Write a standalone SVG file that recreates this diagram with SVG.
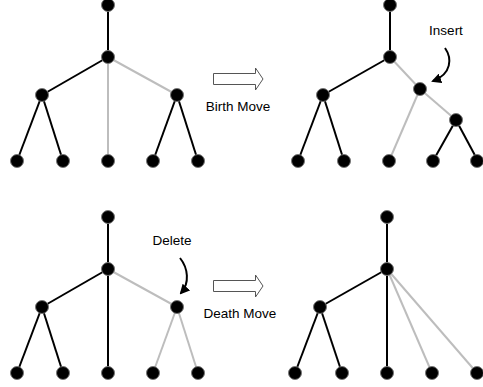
<svg xmlns="http://www.w3.org/2000/svg" width="483" height="387" viewBox="0 0 483 387">
  <style>
    .e { stroke: #000; stroke-width: 2; fill: none; }
    .g { stroke: #bdbdbd; stroke-width: 2; fill: none; }
    .n { fill: #000; stroke: #777; stroke-width: 1; }
    .t { font-family: "Liberation Sans", Arial, sans-serif; font-size: 13.5px; fill: #000; }
    .blk { fill: #fff; stroke: #555; stroke-width: 1; }
    .curve { stroke: #000; stroke-width: 2; fill: none; }
  </style>
  <defs>
    <marker id="head" viewBox="0 0 10 10" refX="8" refY="5" markerWidth="5" markerHeight="5" orient="auto" markerUnits="strokeWidth">
      <path d="M0,0 L10,5 L0,10 Z" fill="#000"/>
    </marker>
  </defs>
  <rect width="483" height="387" fill="#fff"/>

  <!-- connectors -->
  <g id="connectors">
    <!-- tree 1 -->
    <line class="e" x1="108" y1="5" x2="108" y2="57"/>
    <line class="e" x1="108" y1="57" x2="42" y2="95"/>
    <line class="g" x1="108" y1="57" x2="177" y2="95"/>
    <line class="g" x1="108" y1="57" x2="108" y2="161"/>
    <line class="e" x1="42" y1="95" x2="17" y2="161"/>
    <line class="e" x1="42" y1="95" x2="63" y2="161"/>
    <line class="e" x1="177" y1="95" x2="153" y2="161"/>
    <line class="e" x1="177" y1="95" x2="198" y2="161"/>
    <!-- tree 2 -->
    <line class="e" x1="390" y1="5" x2="390" y2="57"/>
    <line class="e" x1="390" y1="57" x2="323" y2="95"/>
    <line class="g" x1="390" y1="57" x2="420" y2="89"/>
    <line class="g" x1="420" y1="89" x2="389" y2="161"/>
    <line class="g" x1="420" y1="89" x2="456" y2="120"/>
    <line class="e" x1="323" y1="95" x2="298" y2="161"/>
    <line class="e" x1="323" y1="95" x2="344" y2="161"/>
    <line class="e" x1="456" y1="120" x2="433" y2="161"/>
    <line class="e" x1="456" y1="120" x2="478" y2="161"/>
    <!-- tree 3 -->
    <line class="e" x1="108" y1="217" x2="108" y2="269"/>
    <line class="e" x1="108" y1="269" x2="42" y2="307"/>
    <line class="g" x1="108" y1="269" x2="177" y2="307"/>
    <line class="e" x1="108" y1="269" x2="108" y2="373"/>
    <line class="e" x1="42" y1="307" x2="17" y2="373"/>
    <line class="e" x1="42" y1="307" x2="63" y2="373"/>
    <line class="g" x1="177" y1="307" x2="153" y2="373"/>
    <line class="g" x1="177" y1="307" x2="198" y2="373"/>
    <!-- tree 4 -->
    <line class="e" x1="387" y1="217" x2="387" y2="269"/>
    <line class="e" x1="387" y1="269" x2="320" y2="307"/>
    <line class="e" x1="387" y1="269" x2="387" y2="373"/>
    <line class="g" x1="387" y1="269" x2="432" y2="373"/>
    <line class="g" x1="387" y1="269" x2="477" y2="373"/>
    <line class="e" x1="320" y1="307" x2="295" y2="373"/>
    <line class="e" x1="320" y1="307" x2="342" y2="373"/>
    <!-- annotation arrows -->
    <path class="curve" d="M445,48 C452,58 452,74 433,81" marker-end="url(#head)"/>
    <path class="curve" d="M180,258 C188,268 190,283 181,293" marker-end="url(#head)"/>
  </g>

  <!-- tree 1 nodes -->
  <g id="t1">
    <circle class="n" cx="108" cy="5" r="6.5"/>
    <circle class="n" cx="108" cy="57" r="6.5"/>
    <circle class="n" cx="42" cy="95" r="6.5"/>
    <circle class="n" cx="177" cy="95" r="6.5"/>
    <circle class="n" cx="17" cy="161" r="6.5"/>
    <circle class="n" cx="63" cy="161" r="6.5"/>
    <circle class="n" cx="108" cy="161" r="6.5"/>
    <circle class="n" cx="153" cy="161" r="6.5"/>
    <circle class="n" cx="198" cy="161" r="6.5"/>
  </g>

  <!-- tree 2 nodes -->
  <g id="t2">
    <circle class="n" cx="390" cy="5" r="6.5"/>
    <circle class="n" cx="390" cy="57" r="6.5"/>
    <circle class="n" cx="323" cy="95" r="6.5"/>
    <circle class="n" cx="420" cy="89" r="6.5"/>
    <circle class="n" cx="456" cy="120" r="6.5"/>
    <circle class="n" cx="298" cy="161" r="6.5"/>
    <circle class="n" cx="344" cy="161" r="6.5"/>
    <circle class="n" cx="389" cy="161" r="6.5"/>
    <circle class="n" cx="433" cy="161" r="6.5"/>
    <circle class="n" cx="477" cy="161" r="6.5"/>
  </g>

  <!-- tree 3 nodes -->
  <g id="t3">
    <circle class="n" cx="108" cy="217" r="6.5"/>
    <circle class="n" cx="108" cy="269" r="6.5"/>
    <circle class="n" cx="42" cy="307" r="6.5"/>
    <circle class="n" cx="177" cy="307" r="6.5"/>
    <circle class="n" cx="17" cy="373" r="6.5"/>
    <circle class="n" cx="63" cy="373" r="6.5"/>
    <circle class="n" cx="108" cy="373" r="6.5"/>
    <circle class="n" cx="153" cy="373" r="6.5"/>
    <circle class="n" cx="198" cy="373" r="6.5"/>
  </g>

  <!-- tree 4 nodes -->
  <g id="t4">
    <circle class="n" cx="387" cy="217" r="6.5"/>
    <circle class="n" cx="387" cy="269" r="6.5"/>
    <circle class="n" cx="320" cy="307" r="6.5"/>
    <circle class="n" cx="295" cy="373" r="6.5"/>
    <circle class="n" cx="342" cy="373" r="6.5"/>
    <circle class="n" cx="387" cy="373" r="6.5"/>
    <circle class="n" cx="432" cy="373" r="6.5"/>
    <circle class="n" cx="477" cy="373" r="6.5"/>
  </g>

  <!-- move arrows and labels -->
  <g id="birth">
    <path class="blk" d="M213.5,73.5 H255.5 V68 L263,79 L255.5,90 V84.5 H213.5 Z"/>
    <text class="t" x="238" y="111" text-anchor="middle">Birth Move</text>
  </g>
  <g id="death">
    <path class="blk" d="M213.5,280.5 H255.5 V275 L263,286 L255.5,297 V291.5 H213.5 Z"/>
    <text class="t" x="240" y="318" text-anchor="middle">Death Move</text>
  </g>
  <g id="insert">
    <text class="t" x="446" y="35" text-anchor="middle">Insert</text>
  </g>
  <g id="delete">
    <text class="t" x="172" y="245" text-anchor="middle">Delete</text>
  </g>
</svg>
